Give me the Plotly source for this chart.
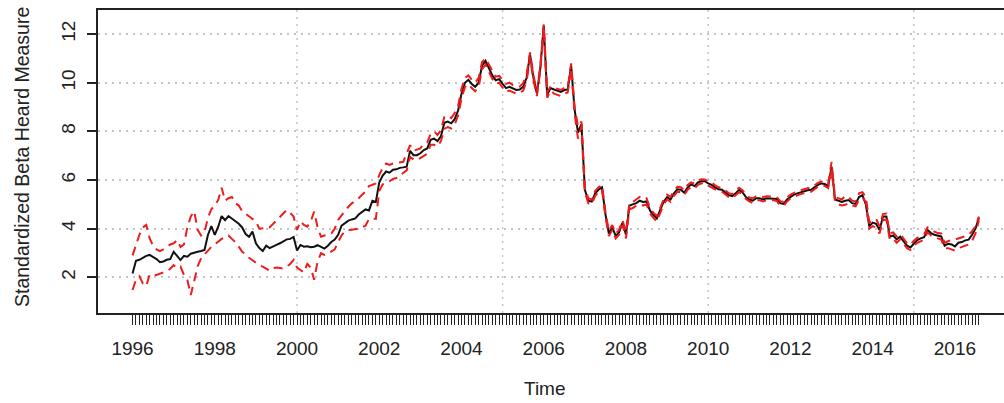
import plotly.graph_objects as go

# Monthly series, January 1996 onwards (one row per year)
center = [
    2.16, 2.68, 2.72, 2.80, 2.88, 2.92, 2.85, 2.75, 2.62, 2.65, 2.72, 2.75,
    3.05, 2.88, 2.71, 2.88, 2.85, 2.97, 3.02, 3.05, 3.08, 3.12, 3.74, 4.11,
    3.74, 4.08, 4.52, 4.35, 4.52, 4.42, 4.29, 4.20, 4.05, 3.78, 3.67, 3.88,
    3.40, 3.20, 3.08, 3.30, 3.20, 3.25, 3.33, 3.40, 3.47, 3.56, 3.58, 3.66,
    3.10, 3.33, 3.26, 3.28, 3.24, 3.26, 3.32, 3.26, 3.18, 3.30, 3.45, 3.55,
    3.75, 4.12, 4.22, 4.33, 4.38, 4.42, 4.58, 4.70, 4.79, 4.75, 5.15, 5.10,
    5.90, 6.18, 6.35, 6.30, 6.42, 6.44, 6.50, 6.52, 6.55, 7.20, 7.02, 7.02,
    7.10, 7.23, 7.30, 7.65, 7.70, 7.60, 7.80, 8.35, 8.40, 8.33, 8.50, 8.85,
    9.55, 10.00, 10.12, 9.95, 9.83, 10.00, 10.70, 10.90, 10.60, 10.30, 10.10, 10.15,
    9.95, 9.78, 9.83, 9.75, 9.70, 9.72, 9.83, 10.20, 11.16, 10.20, 9.56, 10.60,
    12.35, 9.50, 9.78, 9.72, 9.68, 9.62, 9.70, 9.72, 10.70, 8.90, 7.95, 8.30,
    5.60, 5.15, 5.11, 5.45, 5.60, 5.70, 4.60, 3.80, 4.05, 3.70, 3.85, 4.25,
    3.75, 4.95, 5.00, 5.05, 5.15, 5.10, 5.12, 4.75, 4.56, 4.42, 4.77, 5.11,
    5.30, 5.20, 5.45, 5.62, 5.60, 5.48, 5.70, 5.82, 5.75, 5.90, 5.95, 5.95,
    5.86, 5.80, 5.70, 5.62, 5.60, 5.50, 5.38, 5.34, 5.45, 5.60, 5.50, 5.30,
    5.20, 5.15, 5.25, 5.25, 5.20, 5.25, 5.24, 5.25, 5.22, 5.05, 5.02, 5.20,
    5.32, 5.40, 5.45, 5.50, 5.55, 5.58, 5.60, 5.70, 5.80, 5.86, 5.84, 5.75,
    6.55, 5.20, 5.15, 5.10, 5.15, 5.18, 5.05, 5.02, 5.30, 5.38, 5.00, 4.10,
    4.25, 4.20, 3.94, 4.50, 4.50, 3.67, 3.72, 3.56, 3.67, 3.50, 3.30, 3.23,
    3.40, 3.53, 3.60, 3.65, 3.95, 3.82, 3.75, 3.70, 3.68, 3.30, 3.38, 3.35,
    3.27, 3.42, 3.45, 3.52, 3.55, 3.75, 4.00, 4.45,
]

upper = [
    2.90, 3.30, 3.75, 4.05, 4.15, 3.60, 3.30, 3.15, 3.08, 3.15, 3.25, 3.35,
    3.40, 3.53, 3.25, 3.35, 4.05, 4.50, 4.72, 3.95, 3.72, 3.85, 4.45, 4.80,
    4.95, 5.18, 5.68, 5.15, 5.25, 5.30, 5.05, 4.95, 4.72, 4.60, 4.50, 4.40,
    4.30, 4.00, 4.02, 4.08, 4.05, 4.20, 4.36, 4.50, 4.63, 4.77, 4.65, 4.50,
    3.95, 4.30, 4.15, 4.08, 4.30, 4.70, 4.05, 3.67, 3.72, 3.75, 3.80, 4.00,
    4.36, 4.55, 4.74, 4.90, 5.04, 5.15, 5.25, 5.40, 5.52, 5.75, 5.80, 5.86,
    6.20, 6.50, 6.68, 6.62, 6.68, 6.71, 6.72, 6.75, 7.10, 7.43, 7.20, 7.25,
    7.30, 7.50, 7.55, 7.90, 8.00, 7.85, 8.05, 8.60, 8.65, 8.55, 8.75, 9.05,
    9.75, 10.20, 10.30, 10.12, 10.00, 10.20, 10.85, 11.00, 10.75, 10.45, 10.25, 10.28,
    10.10, 9.95, 10.00, 9.90, 9.85, 9.85, 9.98, 10.35, 11.25, 10.30, 9.65, 10.70,
    12.40, 9.60, 9.85, 9.80, 9.75, 9.70, 9.78, 9.80, 10.80, 9.00, 8.20, 8.40,
    5.70, 5.25, 5.20, 5.55, 5.70, 5.80, 4.70, 3.90, 4.15, 3.80, 3.95, 4.35,
    3.85, 5.05, 5.10, 5.20, 5.30, 5.20, 5.25, 4.85, 4.65, 4.52, 4.87, 5.20,
    5.40, 5.30, 5.55, 5.72, 5.70, 5.58, 5.80, 5.90, 5.85, 5.98, 6.03, 6.02,
    5.95, 5.90, 5.78, 5.70, 5.68, 5.58, 5.46, 5.42, 5.53, 5.68, 5.58, 5.38,
    5.28, 5.25, 5.33, 5.35, 5.30, 5.33, 5.32, 5.33, 5.30, 5.13, 5.10, 5.28,
    5.40, 5.48, 5.53, 5.58, 5.63, 5.66, 5.68, 5.78, 5.88, 5.94, 5.92, 5.83,
    6.75, 5.30, 5.25, 5.20, 5.35, 5.30, 5.15, 5.12, 5.45, 5.50, 5.30, 4.25,
    4.35, 4.40, 4.10, 4.60, 4.62, 3.80, 3.85, 3.68, 3.78, 3.60, 3.40, 3.33,
    3.50, 3.62, 3.70, 3.76, 4.05, 3.95, 3.88, 3.82, 3.80, 3.42, 3.50, 3.55,
    3.55, 3.60, 3.63, 3.68, 3.74, 3.90, 4.10, 4.50,
]

lower = [
    1.48, 1.90, 2.04, 1.75, 1.64, 2.12, 2.10, 2.10, 2.15, 2.20, 2.25, 2.35,
    2.50, 2.38, 2.44, 2.10, 1.89, 1.27, 1.90, 2.45, 2.78, 2.95, 3.12, 3.25,
    3.35, 3.48, 3.58, 3.64, 3.72, 3.58, 3.45, 3.26, 3.05, 2.95, 2.80, 2.70,
    2.60, 2.50, 2.44, 2.35, 2.27, 2.38, 2.40, 2.38, 2.36, 2.44, 2.55, 2.72,
    2.40, 2.30, 2.20, 2.55, 2.40, 1.90, 2.65, 2.99, 2.92, 2.98, 3.05, 3.15,
    3.45, 3.72, 3.90, 3.95, 3.96, 3.97, 4.00, 4.05, 4.12, 4.40, 4.42, 4.40,
    5.55, 5.82, 5.86, 5.95, 6.05, 6.08, 6.20, 6.30, 6.40, 6.95, 6.85, 6.82,
    6.90, 7.00, 7.08, 7.45, 7.45, 7.38, 7.60, 8.10, 8.18, 8.12, 8.28, 8.65,
    9.35, 9.82, 9.95, 9.78, 9.65, 9.82, 10.55, 10.75, 10.45, 10.15, 9.95, 10.00,
    9.80, 9.62, 9.68, 9.60, 9.55, 9.58, 9.68, 10.05, 11.05, 10.10, 9.45, 10.50,
    12.25, 9.38, 9.68, 9.55, 9.50, 9.45, 9.55, 9.60, 10.60, 8.75, 7.70, 8.20,
    5.50, 5.05, 5.00, 5.35, 5.50, 5.60, 4.50, 3.70, 3.95, 3.60, 3.75, 4.15,
    3.60, 4.80, 4.85, 4.95, 5.00, 4.95, 5.00, 4.62, 4.45, 4.30, 4.65, 5.00,
    5.20, 5.10, 5.35, 5.52, 5.50, 5.38, 5.60, 5.72, 5.65, 5.80, 5.86, 5.87,
    5.77, 5.70, 5.62, 5.54, 5.52, 5.42, 5.30, 5.26, 5.37, 5.50, 5.42, 5.22,
    5.12, 5.06, 5.17, 5.17, 5.12, 5.17, 5.16, 5.17, 5.14, 4.95, 4.94, 5.12,
    5.24, 5.32, 5.37, 5.42, 5.47, 5.50, 5.52, 5.62, 5.72, 5.78, 5.76, 5.67,
    6.40, 5.10, 5.00, 4.95, 4.98, 5.05, 4.95, 4.92, 5.18, 5.28, 5.10, 4.00,
    4.10, 4.05, 3.80, 4.35, 4.38, 3.55, 3.58, 3.42, 3.55, 3.38, 3.20, 3.12,
    3.30, 3.42, 3.50, 3.55, 3.85, 3.72, 3.65, 3.60, 3.55, 3.20, 3.20, 3.15,
    3.10, 3.20, 3.25, 3.30, 3.35, 3.50, 3.80, 4.35,
]

start_year = 1996
time = [start_year + m / 12 for m in range(len(center))]

year_labels = list(range(1996, 2017, 2))
y_ticks = [2, 4, 6, 8, 10, 12]
v_grid = [2000, 2005, 2010, 2015]

# one tick per month; only every second January gets a label
tick_text = []
for m, t in enumerate(time):
    yr = start_year + m // 12
    tick_text.append(str(yr) if (m % 12 == 0 and yr in year_labels) else "")

FONT = "Liberation Sans, Arial, sans-serif"
RED = "#ee1c1c"
INK = "#222222"
GRID = "#c4c4c4"

fig = go.Figure()
fig.add_trace(go.Scatter(x=time, y=center, mode="lines",
                         line=dict(color="#111111", width=2), showlegend=False))
fig.add_trace(go.Scatter(x=time, y=upper, mode="lines",
                         line=dict(color=RED, width=2, dash="9px,6px"), showlegend=False))
fig.add_trace(go.Scatter(x=time, y=lower, mode="lines",
                         line=dict(color=RED, width=2, dash="9px,6px"), showlegend=False))

for g in v_grid:
    fig.add_shape(type="line", xref="x", yref="paper", x0=g, x1=g, y0=0, y1=1,
                  line=dict(color=GRID, width=1.5, dash="2px,5px"), layer="below")

fig.update_layout(
    width=1004, height=403,
    margin=dict(l=98, r=0, t=10, b=90),
    paper_bgcolor="white", plot_bgcolor="white",
    font=dict(family=FONT, size=19, color=INK),
    xaxis=dict(
        range=[1995.16, 1995.16 + 906 / 41.12],
        tickmode="array", tickvals=time, ticktext=tick_text,
        ticks="outside", ticklen=10, tickwidth=1, tickcolor=INK,
        showgrid=False, zeroline=False,
        showline=True, linecolor=INK, linewidth=2, mirror=True,
        tickfont=dict(size=19), tickangle=0, ticklabelstandoff=7,
    ),
    yaxis=dict(
        range=[0.533, 12.99],
        tickmode="array", tickvals=y_ticks, ticktext=[str(v) for v in y_ticks],
        ticks="outside", ticklen=9, tickwidth=1.5, tickcolor=INK,
        showgrid=True, gridcolor=GRID, gridwidth=1.5, griddash="2px,5px",
        zeroline=False, showline=True, linecolor=INK, linewidth=2,
        tickfont=dict(size=19), tickangle=-90, ticklabelstandoff=4,
    ),
    annotations=[
        dict(text="Time", xref="paper", yref="paper",
             x=(545 - 98) / 906, y=(313 - 388) / 303,
             showarrow=False, xanchor="center", yanchor="middle",
             font=dict(size=19, color=INK)),
        dict(text="Standardized Beta Heard Measure", xref="paper", yref="paper",
             x=(22 - 98) / 906, y=(313 - 157) / 303, textangle=-90,
             showarrow=False, xanchor="center", yanchor="middle",
             font=dict(size=19.5, color=INK)),
    ],
)

fig.write_html("out.html")
